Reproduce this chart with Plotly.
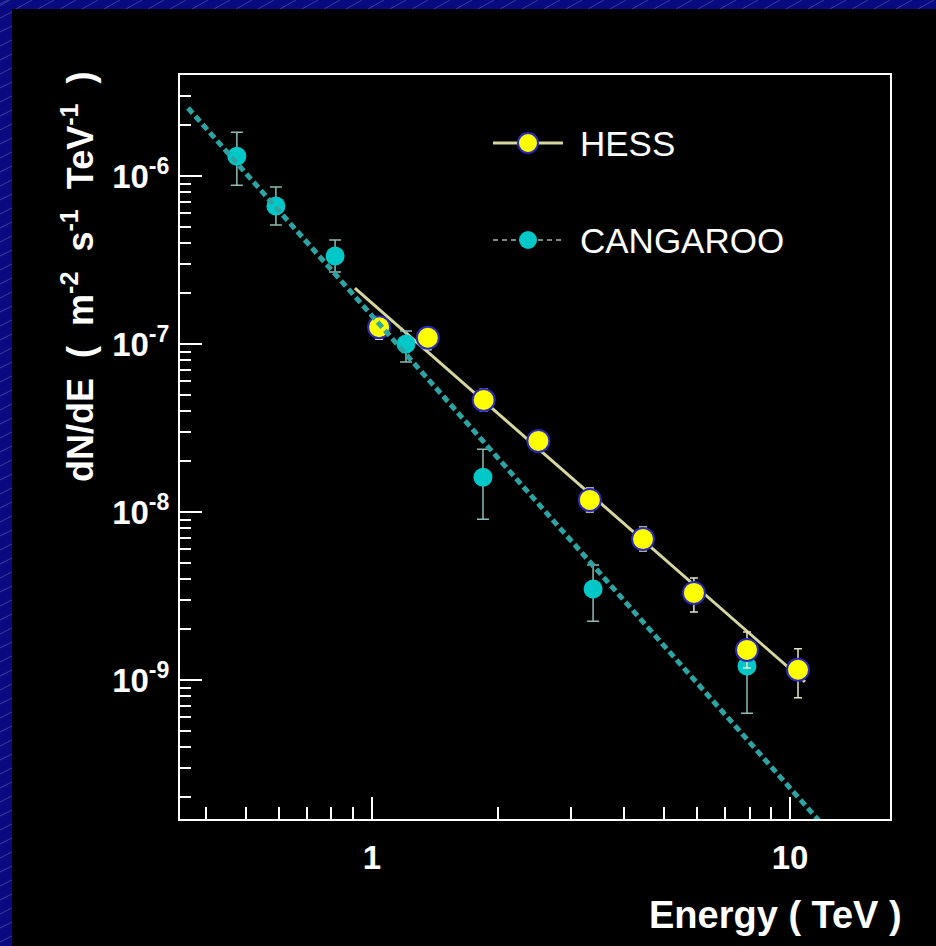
import plotly.graph_objects as go

# ---------------- data ----------------
hess_energy = [1.04, 1.36, 1.85, 2.50, 3.32, 4.45, 5.89, 7.89, 10.45]
hess_flux = [1.26e-7, 1.09e-7, 4.64e-8, 2.65e-8, 1.18e-8, 6.9e-9, 3.3e-9, 1.51e-9, 1.15e-9]
hess_err_up = [1.66e-8, 1.60e-8, 7.55e-9, 3.89e-9, 2.11e-9, 1.23e-9, 7.53e-10, 4.22e-10, 3.84e-10]
hess_err_down = [1.91e-8, 1.65e-8, 6.49e-9, 3.39e-9, 1.79e-9, 1.05e-9, 7.57e-10, 3.30e-10, 3.67e-10]

cang_energy = [0.475, 0.589, 0.816, 1.206, 1.843, 3.38, 7.89]
cang_flux = [1.31e-6, 6.63e-7, 3.34e-7, 1.0e-7, 1.61e-8, 3.48e-9, 1.21e-9]
cang_err_up = [5.10e-7, 1.97e-7, 8.18e-8, 1.95e-8, 7.53e-9, 1.36e-9, 1.78e-10]
cang_err_down = [4.30e-7, 1.52e-7, 6.57e-8, 2.19e-8, 7.05e-9, 1.24e-9, 5.75e-10]

# fitted power-law lines (end points)
hess_fit_energy = [0.91, 10.86]
hess_fit_flux = [2.15e-7, 9.73e-10]
cang_fit_energy = [0.363, 11.8]
cang_fit_flux = [2.54e-6, 1.43e-10]

x_major = [1, 10]
x_major_text = ["1", "10"]
x_minor = [0.4, 0.5, 0.6, 0.7, 0.8, 0.9, 2, 3, 4, 5, 6, 7, 8, 9]
y_major = [1e-9, 1e-8, 1e-7, 1e-6]
y_major_text = ["10<sup>-9</sup>", "10<sup>-8</sup>", "10<sup>-7</sup>", "10<sup>-6</sup>"]
y_minor = [m * 10.0 ** e for e in (-10, -9, -8, -7, -6) for m in range(2, 10)]

series_names = ["HESS", "CANGAROO"]

# ---------------- layout geometry ----------------
W, H = 936, 946
L, R, T, B = 180, 46, 75, 127
PW, PH = W - L - R, H - T - B


def px(xp):
    return (xp - L) / PW


def py(yp):
    return (H - B - yp) / PH


FONT = "Liberation Sans, Arial, sans-serif"

fig = go.Figure()

# HESS fit line (below markers)
fig.add_trace(go.Scatter(
    x=hess_fit_energy, y=hess_fit_flux, mode="lines",
    line=dict(color="#d6d6a0", width=3), showlegend=False, hoverinfo="skip"))

# CANGAROO points
fig.add_trace(go.Scatter(
    x=cang_energy, y=cang_flux, mode="markers", name=series_names[1],
    marker=dict(color="#00c8c8", size=19, line=dict(width=0)),
    error_y=dict(type="data", symmetric=False, array=cang_err_up,
                 arrayminus=cang_err_down, color="#8fbcb4", thickness=1.5, width=6),
    showlegend=False))

# HESS points
fig.add_trace(go.Scatter(
    x=hess_energy, y=hess_flux, mode="markers", name=series_names[0],
    marker=dict(color="#ffff00", size=22, line=dict(color="#2a2ab8", width=2)),
    error_y=dict(type="data", symmetric=False, array=hess_err_up,
                 arrayminus=hess_err_down, color="#e6e6c0", thickness=1.5, width=4),
    showlegend=False))

# CANGAROO fit (thick dotted, on top)
fig.add_trace(go.Scatter(
    x=cang_fit_energy, y=cang_fit_flux, mode="lines",
    line=dict(color="#2ea3a3", width=5, dash="7px,4px"), showlegend=False,
    hoverinfo="skip"))

axis_common = dict(
    type="log", showgrid=False, zeroline=False,
    showline=True, linecolor="white", linewidth=2, mirror=True,
    ticks="inside", ticklen=22, tickwidth=2, tickcolor="white",
    tickmode="array",
    tickfont=dict(family=FONT, size=33, color="white", weight="bold"),
)

fig.update_xaxes(
    **axis_common,
    range=[-0.4593, 1.2392],
    tickvals=x_major, ticktext=x_major_text,
    ticklabelstandoff=8,
    minor=dict(tickmode="array", tickvals=x_minor, ticks="inside", ticklen=12,
               tickwidth=2, tickcolor="white", showgrid=False),
)
fig.update_yaxes(
    **axis_common,
    range=[-9.8274, -5.3988],
    tickvals=y_major, ticktext=y_major_text,
    ticklabelstandoff=2,
    minor=dict(tickmode="array", tickvals=y_minor, ticks="inside", ticklen=11,
               tickwidth=2, tickcolor="white", showgrid=False),
)

shapes = []
# black panel over the blue hatched background
shapes.append(dict(type="rect", xref="paper", yref="paper", layer="below",
                   x0=px(12), x1=px(W + 20), y0=py(H + 20), y1=py(9),
                   fillcolor="black", line=dict(width=0)))

# hatch lines on the blue border (decoration)
segs = []
yy = 4
while yy < H + 12:
    segs.append("M%.5f,%.5f L%.5f,%.5f" % (px(0), py(yy), px(12), py(yy - 6)))
    yy += 14
xx = -6
while xx < W:
    segs.append("M%.5f,%.5f L%.5f,%.5f" % (px(xx), py(9), px(xx + 16), py(0)))
    xx += 22
shapes.append(dict(type="path", xref="paper", yref="paper", layer="below",
                   path=" ".join(segs), line=dict(color="#3c3ca0", width=1)))

# legend symbols
leg_y = [143, 240]
shapes.append(dict(type="line", xref="paper", yref="paper",
                   x0=px(493), x1=px(563), y0=py(leg_y[0]), y1=py(leg_y[0]),
                   line=dict(color="#d6d6a0", width=3)))
shapes.append(dict(type="circle", xref="paper", yref="paper",
                   xsizemode="pixel", ysizemode="pixel",
                   xanchor=px(528), yanchor=py(leg_y[0]),
                   x0=-10, x1=10, y0=-10, y1=10,
                   fillcolor="#ffff00", line=dict(color="#2a2ab8", width=2)))
shapes.append(dict(type="line", xref="paper", yref="paper",
                   x0=px(493), x1=px(563), y0=py(leg_y[1]), y1=py(leg_y[1]),
                   line=dict(color="#9cbcbc", width=1.5, dash="5px,4px")))
shapes.append(dict(type="circle", xref="paper", yref="paper",
                   xsizemode="pixel", ysizemode="pixel",
                   xanchor=px(528), yanchor=py(leg_y[1]),
                   x0=-9, x1=9, y0=-9, y1=9,
                   fillcolor="#00c8c8", line=dict(width=0)))

annotations = []
for name, ly in zip(series_names, leg_y):
    annotations.append(dict(xref="paper", yref="paper", x=px(578), y=py(ly),
                            xanchor="left", yanchor="middle", showarrow=False,
                            text=name, font=dict(family=FONT, size=35, color="white")))

annotations.append(dict(
    xref="paper", yref="paper", x=px(775), y=py(915), xanchor="center",
    yanchor="middle", showarrow=False, text="Energy ( TeV )",
    font=dict(family=FONT, size=38, color="white", weight="bold")))
annotations.append(dict(
    xref="paper", yref="paper", x=px(78), y=py(277), xanchor="center",
    yanchor="middle", showarrow=False, textangle=-90,
    text="dN/dE  (  m<sup>-2</sup>  s<sup>-1</sup>  TeV<sup>-1</sup>  )",
    font=dict(family=FONT, size=36, color="white", weight="bold")))

fig.update_layout(
    width=W, height=H, autosize=False,
    margin=dict(l=L, r=R, t=T, b=B),
    paper_bgcolor="#0a0a80", plot_bgcolor="black",
    shapes=shapes, annotations=annotations, showlegend=False,
)

fig.write_html(
    "out.html",
    config={"displayModeBar": False},
    post_script="document.body.style.margin='0';document.body.style.padding='0';"
                "document.body.style.overflow='hidden';"
                "document.body.style.background='#0a0a80';",
)
